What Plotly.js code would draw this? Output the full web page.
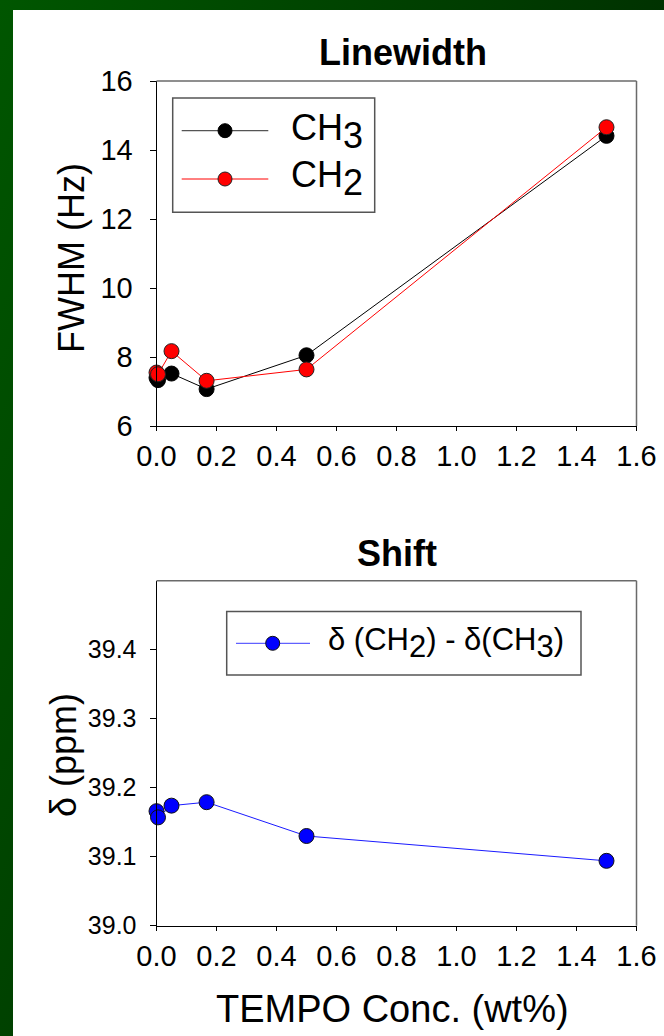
<!DOCTYPE html>
<html>
<head>
<meta charset="utf-8">
<script src="https://cdn.plot.ly/plotly-3.0.1.min.js"></script>
<style>
  html, body { margin:0; padding:0; width:664px; height:1036px; overflow:hidden; }
  body { background: linear-gradient(110deg, #005600 0%, #003a00 50%, #001e00 100%); position:relative; }
  #panel { position:absolute; left:13px; top:10px; right:0; bottom:0; background:#ffffff; }
  #chart { position:absolute; left:0; top:0; width:664px; height:1036px; }
</style>
</head>
<body>
<div id="panel"></div>
<div id="chart"></div>
<script>
// ---- data ----
const conc = [0, 0.005, 0.05, 0.167, 0.5, 1.5];           // TEMPO conc. (wt%)
const fwhmCH3 = [7.40, 7.33, 7.52, 7.07, 8.05, 14.41];     // FWHM (Hz), CH3
const fwhmCH2 = [7.55, 7.50, 8.17, 7.31, 7.64, 14.66];     // FWHM (Hz), CH2
const shiftDiff = [39.166, 39.157, 39.174, 39.179, 39.130, 39.094]; // δ(CH2)-δ(CH3) ppm
const xTickVals = [0, 0.2, 0.4, 0.6, 0.8, 1.0, 1.2, 1.4, 1.6];
const xTickText = ['0.0','0.2','0.4','0.6','0.8','1.0','1.2','1.4','1.6'];
const yTickVals1 = [6, 8, 10, 12, 14, 16];
const yTickText1 = ['6','8','10','12','14','16'];
const yTickVals2 = [39.0, 39.1, 39.2, 39.3, 39.4];
const yTickText2 = ['39.0','39.1','39.2','39.3','39.4'];
const seriesNames = ['CH<sub><span style="font-size:36px">3</span></sub>',
                     'CH<sub><span style="font-size:36px">2</span></sub>'];
const shiftName = 'δ (CH<sub><span style="font-size:31px">2</span></sub>) - δ(CH<sub><span style="font-size:31px">3</span></sub>)';

// ---- layout helpers ----
const W = 664, H = 1036;
const px = x => x / W;
const py = y => 1 - y / H;
const FONT = '"Liberation Sans", Arial, sans-serif';

const traces = [
  { x: conc, y: fwhmCH3, xaxis: 'x', yaxis: 'y', mode: 'lines+markers', name: 'CH3',
    line: { color: '#000000', width: 1 }, cliponaxis: false,
    marker: { color: '#000000', size: 15, line: { color: '#000000', width: 1 } } },
  { x: conc, y: fwhmCH2, xaxis: 'x', yaxis: 'y', mode: 'lines+markers', name: 'CH2',
    line: { color: '#ff0000', width: 1 }, cliponaxis: false,
    marker: { color: '#ff0000', size: 15, line: { color: '#222222', width: 1 } } },
  { x: conc, y: shiftDiff, xaxis: 'x2', yaxis: 'y2', mode: 'lines+markers', name: 'shift',
    line: { color: '#1a1aff', width: 1 }, cliponaxis: false,
    marker: { color: '#0000ff', size: 15, line: { color: '#111111', width: 1 } } }
];

const xDom = [px(156.5), px(636.5)];
const axBase = {
  showline: true, linecolor: '#000000', linewidth: 1, mirror: false,
  ticks: 'outside', ticklen: 6, tickwidth: 1, tickcolor: '#000000',
  showgrid: false, zeroline: false, fixedrange: true,
  tickfont: { family: FONT, size: 29, color: '#000000' }
};

const layout = {
  width: W, height: H,
  margin: { l: 0, r: 0, t: 0, b: 0 },
  paper_bgcolor: 'rgba(0,0,0,0)',
  plot_bgcolor: '#ffffff',
  showlegend: false,
  font: { family: FONT, color: '#000000' },
  xaxis: Object.assign({}, axBase, { domain: xDom, anchor: 'y', range: [0, 1.6], ticklen: 4,
    tickmode: 'array', tickvals: xTickVals, ticktext: xTickText, ticklabelstandoff: 0 }),
  yaxis: Object.assign({}, axBase, { domain: [py(426), py(81)], anchor: 'x', range: [6, 16],
    tickmode: 'array', tickvals: yTickVals1, ticktext: yTickText1, ticklabelstandoff: 11 }),
  xaxis2: Object.assign({}, axBase, { domain: xDom, anchor: 'y2', range: [0, 1.6], ticklen: 4,
    tickmode: 'array', tickvals: xTickVals, ticktext: xTickText, ticklabelstandoff: 0 }),
  yaxis2: Object.assign({}, axBase, { domain: [py(925.7), py(580.7)], anchor: 'x2', range: [39.0, 39.5],
    tickmode: 'array', tickvals: yTickVals2, ticktext: yTickText2, ticklabelstandoff: 8,
    tickfont: { family: FONT, size: 25, color: '#000000' } }),
  shapes: [
    // frame top/right (grey)
    { type: 'line', xref: 'x domain', yref: 'y domain', x0: 0, x1: 1, y0: 1, y1: 1, line: { color: '#6a6a6a', width: 1.5 } },
    { type: 'line', xref: 'x domain', yref: 'y domain', x0: 1, x1: 1, y0: 0, y1: 1, line: { color: '#6a6a6a', width: 1.5 } },
    { type: 'line', xref: 'x2 domain', yref: 'y2 domain', x0: 0, x1: 1, y0: 1, y1: 1, line: { color: '#6a6a6a', width: 1.5 } },
    { type: 'line', xref: 'x2 domain', yref: 'y2 domain', x0: 1, x1: 1, y0: 0, y1: 1, line: { color: '#6a6a6a', width: 1.5 } },
    // top legend box
    { type: 'rect', xref: 'paper', yref: 'paper', x0: px(172.7), x1: px(374.7), y0: py(212.3), y1: py(98),
      line: { color: '#555555', width: 1.5 }, fillcolor: '#ffffff' },
    { type: 'line', xref: 'paper', yref: 'paper', x0: px(181.7), x1: px(268.3), y0: py(130.7), y1: py(130.7),
      line: { color: '#555555', width: 1.2 } },
    { type: 'circle', xref: 'paper', yref: 'paper', x0: px(225 - 7), x1: px(225 + 7), y0: py(130.7 + 7), y1: py(130.7 - 7),
      line: { color: '#000000', width: 1 }, fillcolor: '#000000' },
    { type: 'line', xref: 'paper', yref: 'paper', x0: px(181.7), x1: px(268.3), y0: py(179), y1: py(179),
      line: { color: '#ff0000', width: 1 } },
    { type: 'circle', xref: 'paper', yref: 'paper', x0: px(225 - 7), x1: px(225 + 7), y0: py(179 + 7), y1: py(179 - 7),
      line: { color: '#222222', width: 1 }, fillcolor: '#ff0000' },
    // bottom legend box
    { type: 'rect', xref: 'paper', yref: 'paper', x0: px(226.7), x1: px(581), y0: py(675), y1: py(611.5),
      line: { color: '#555555', width: 1.5 }, fillcolor: '#ffffff' },
    { type: 'line', xref: 'paper', yref: 'paper', x0: px(236), x1: px(310), y0: py(643.3), y1: py(643.3),
      line: { color: '#3a3aff', width: 1 } },
    { type: 'circle', xref: 'paper', yref: 'paper', x0: px(272.7 - 7), x1: px(272.7 + 7), y0: py(643.3 + 7), y1: py(643.3 - 7),
      line: { color: '#111111', width: 1 }, fillcolor: '#0000ff' }
  ],
  annotations: [
    { text: '<b>Linewidth</b>', xref: 'paper', yref: 'paper', x: px(403), y: py(53), xanchor: 'center', yanchor: 'middle',
      showarrow: false, font: { family: FONT, size: 36, color: '#000000' } },
    { text: '<b>Shift</b>', xref: 'paper', yref: 'paper', x: px(397), y: py(553), xanchor: 'center', yanchor: 'middle',
      showarrow: false, font: { family: FONT, size: 36, color: '#000000' } },
    { text: 'FWHM (Hz)', xref: 'paper', yref: 'paper', x: px(71), y: py(258), xanchor: 'center', yanchor: 'middle',
      textangle: -90, showarrow: false, font: { family: FONT, size: 36, color: '#000000' } },
    { text: 'δ (ppm)', xref: 'paper', yref: 'paper', x: px(63), y: py(755), xanchor: 'center', yanchor: 'middle',
      textangle: -90, showarrow: false, font: { family: FONT, size: 36, color: '#000000' } },
    { text: 'TEMPO Conc. (wt%)', xref: 'paper', yref: 'paper', x: px(392), y: py(1009), xanchor: 'center', yanchor: 'middle',
      showarrow: false, font: { family: FONT, size: 38, color: '#000000' } },
    { text: seriesNames[0], xref: 'paper', yref: 'paper', x: px(289), y: py(131), xanchor: 'left', yanchor: 'middle',
      showarrow: false, font: { family: FONT, size: 36, color: '#000000' } },
    { text: seriesNames[1], xref: 'paper', yref: 'paper', x: px(289), y: py(179), xanchor: 'left', yanchor: 'middle',
      showarrow: false, font: { family: FONT, size: 36, color: '#000000' } },
    { text: shiftName, xref: 'paper', yref: 'paper', x: px(326), y: py(643), xanchor: 'left', yanchor: 'middle',
      showarrow: false, font: { family: FONT, size: 31, color: '#000000' } }
  ]
};

Plotly.newPlot('chart', traces, layout, { staticPlot: true, displayModeBar: false });
</script>
</body>
</html>
